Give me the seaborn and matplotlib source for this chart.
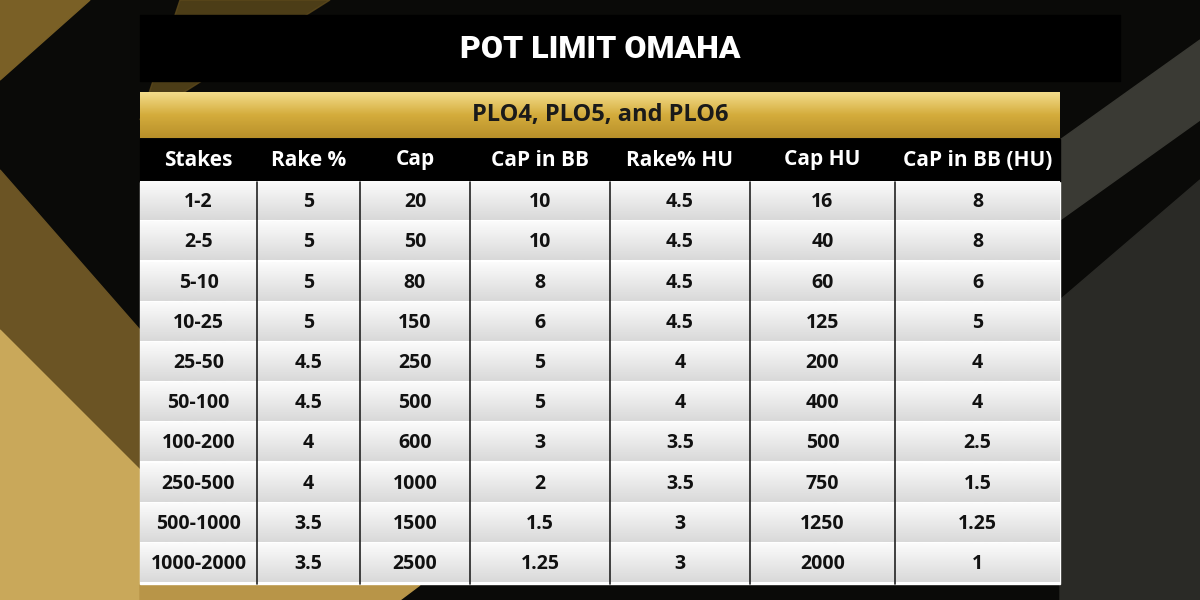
import numpy as np
import seaborn as sns
import matplotlib.pyplot as plt
from matplotlib.patches import Rectangle, Polygon

sns.set_theme()
sns.set_style('white')

title = "POT LIMIT OMAHA"
subtitle = "PLO4, PLO5, and PLO6"
columns = ["Stakes", "Rake %", "Cap", "CaP in BB", "Rake% HU", "Cap HU", "CaP in BB (HU)"]
stakes = ["1-2", "2-5", "5-10", "10-25", "25-50", "50-100", "100-200", "250-500", "500-1000", "1000-2000"]
rake = ["5", "5", "5", "5", "4.5", "4.5", "4", "4", "3.5", "3.5"]
cap = ["20", "50", "80", "150", "250", "500", "600", "1000", "1500", "2500"]
cap_bb = ["10", "10", "8", "6", "5", "5", "3", "2", "1.5", "1.25"]
rake_hu = ["4.5", "4.5", "4.5", "4.5", "4", "4", "3.5", "3.5", "3", "3"]
cap_hu = ["16", "40", "60", "125", "200", "400", "500", "750", "1250", "2000"]
cap_bb_hu = ["8", "8", "6", "5", "4", "4", "2.5", "1.5", "1.25", "1"]

table = [stakes, rake, cap, cap_bb, rake_hu, cap_hu, cap_bb_hu]
col_edges = [140, 257, 360, 470, 610, 750, 895, 1060]

fig = plt.figure(figsize=(12, 6), dpi=100)
ax = fig.add_axes([0, 0, 1, 1])
ax.set_xlim(0, 1200)
ax.set_ylim(600, 0)
ax.axis('off')
fig.patch.set_facecolor('#0a0a08')

# background gold shards
ax.add_patch(Polygon([[0, 170], [140, 330], [140, 600], [0, 600]], color='#6b5424', zorder=0))
ax.add_patch(Polygon([[0, 330], [140, 470], [140, 600], [0, 600]], color='#c9a85a', zorder=0))
ax.add_patch(Polygon([[0, 0], [90, 0], [0, 80]], color='#7a6026', zorder=0))
ax.add_patch(Polygon([[180, 0], [330, 0], [140, 120]], color='#5e4a1c', zorder=0, alpha=0.8))
ax.add_patch(Polygon([[1060, 300], [1200, 180], [1200, 600], [1060, 600]], color='#2a2a26', zorder=0))
ax.add_patch(Polygon([[1060, 140], [1200, 40], [1200, 120], [1060, 220]], color='#3a3a34', zorder=0))
ax.add_patch(Polygon([[140, 585], [420, 585], [400, 600], [140, 600]], color='#b89548', zorder=0))

# title bar
ax.add_patch(Rectangle((140, 15), 980, 66, color='black', zorder=1))
ax.text(600, 49, title, color='white', fontsize=23, fontweight='heavy',
        family='Roboto', ha='center', va='center', zorder=2)

# gold subtitle bar with vertical gradient
ax.imshow(np.linspace(0, 1, 50).reshape(-1, 1), extent=(140, 1060, 138, 92),
          cmap=sns.blend_palette(['#f3dc8a', '#d4ac3c', '#b8902a'], as_cmap=True),
          aspect='auto', zorder=1)
ax.text(600, 115, subtitle, color='#1a1a1a', fontsize=17, fontweight='bold',
        family='Open Sans', ha='center', va='center', zorder=2)

# header row
ax.add_patch(Rectangle((140, 139), 920, 42, color='black', zorder=1))
for j, name in enumerate(columns):
    xc = (col_edges[j] + col_edges[j + 1]) / 2
    ax.text(xc, 160, name, color='white', fontsize=15, fontweight='bold',
            family='Open Sans', ha='center', va='center', zorder=2)

# body rows
row_h = 40.2
y0 = 182
ax.add_patch(Rectangle((140, y0), 920, len(stakes) * row_h, color='white', zorder=0.5))
for i in range(len(stakes)):
    top = y0 + i * row_h
    ax.imshow(np.linspace(0, 1, 30).reshape(-1, 1), extent=(140, 1060, top + row_h - 2, top),
              cmap=sns.blend_palette(['#fbfbfb', '#d9d9d9'], as_cmap=True),
              aspect='auto', zorder=1)
    for j, col in enumerate(table):
        xc = (col_edges[j] + col_edges[j + 1]) / 2
        ax.text(xc, top + row_h / 2, col[i], color='#111111', fontsize=14, fontweight='bold',
                family='Open Sans', ha='center', va='center', zorder=2)
for xe in col_edges[1:-1]:
    ax.plot([xe, xe], [y0, y0 + len(stakes) * row_h], color='#222222', lw=1.2, zorder=3)

fig.savefig('out.png', dpi=100, facecolor=fig.get_facecolor())
